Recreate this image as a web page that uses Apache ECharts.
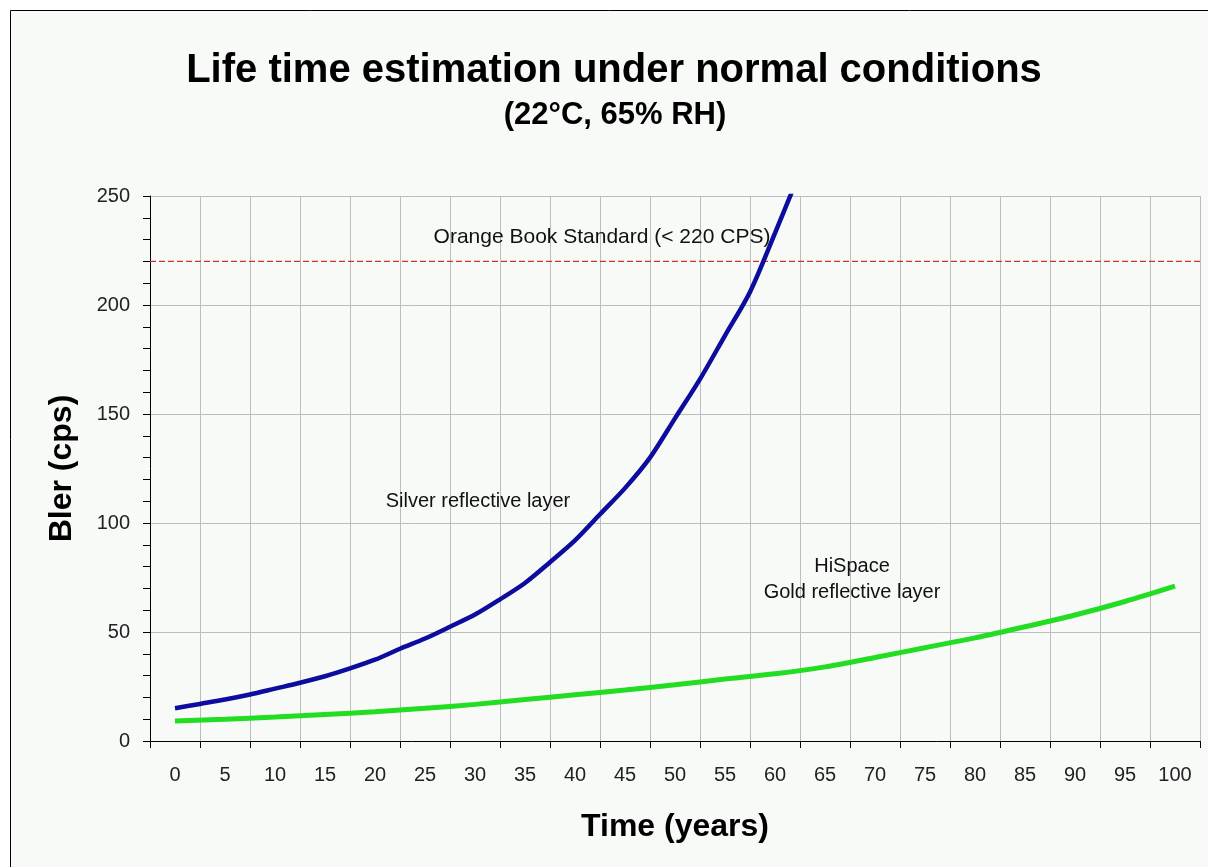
<!DOCTYPE html>
<html>
<head>
<meta charset="utf-8">
<script src="https://cdn.jsdelivr.net/npm/echarts@6/dist/echarts.min.js"></script>
<style>
html,body{margin:0;padding:0;background:#fff;}
#main{width:1208px;height:867px;}
</style>
</head>
<body>
<div id="main"></div>
<script>
// ---- data ----
const xCategories = ['0','5','10','15','20','25','30','35','40','45','50','55','60','65','70','75','80','85','90','95','100'];
const silverYears = [0,2.5,5,7.5,10,12.5,15,17.5,20,22.5,25,27.5,30,32.5,35,37.5,40,42.5,45,47.5,50,52.5,55,57.5,60,62.5];
const silverBler  = [15,17,19,21.3,24,26.7,29.7,33.3,37.3,42.3,47,52.4,58,65,72.5,82,92,104,116,130,148,166,186,206,233,261];
const goldYears = [0,5,10,15,20,25,30,35,40,45,50,55,60,65,70,75,80,85,90,95,100];
const goldBler  = [9.2,10,11,12.2,13.4,15,16.8,19,21.2,23.4,25.8,28.4,30.8,34,38.3,42.8,47.3,52.4,57.8,64,71];
const standardLimit = 220;
const xRange = [-2.5, 102.5];

const FONT = '"Liberation Sans", Arial, sans-serif';
const chart = echarts.init(document.getElementById('main'));

function pairs(xs, ys){ return xs.map((x,i)=>[x, ys[i]]); }

chart.setOption({
  backgroundColor: '#ffffff',
  animation: false,
  textStyle: { fontFamily: FONT },
  grid: { left: 150, right: 8, top: 196, bottom: 126, containLabel: false },
  graphic: [
    { type: 'rect', z: -10, silent: true,
      shape: { x: 10.5, y: 10.5, width: 1300, height: 1000 },
      style: { fill: '#f7faf7', stroke: '#000', lineWidth: 1 } },
    { type: 'text', z: 100, x: 614, y: 71,
      style: { text: 'Life time estimation under normal conditions', font: 'bold 40px ' + FONT, fill: '#000', align: 'center', verticalAlign: 'middle' } },
    { type: 'text', z: 100, x: 615, y: 115,
      style: { text: '(22°C, 65% RH)', font: 'bold 31px ' + FONT, fill: '#000', align: 'center', verticalAlign: 'middle' } },
    { type: 'text', z: 100, x: 602, y: 237,
      style: { text: 'Orange Book Standard (< 220 CPS)', font: '21px ' + FONT, fill: '#111', align: 'center', verticalAlign: 'middle' } },
    { type: 'text', z: 100, x: 478, y: 501,
      style: { text: 'Silver reflective layer', font: '20px ' + FONT, fill: '#111', align: 'center', verticalAlign: 'middle' } },
    { type: 'text', z: 100, x: 852, y: 566,
      style: { text: 'HiSpace', font: '20px ' + FONT, fill: '#111', align: 'center', verticalAlign: 'middle' } },
    { type: 'text', z: 100, x: 852, y: 592,
      style: { text: 'Gold reflective layer', font: '20px ' + FONT, fill: '#111', align: 'center', verticalAlign: 'middle' } }
  ],
  xAxis: [
    {
      type: 'category', data: xCategories, boundaryGap: true,
      name: 'Time (years)', nameLocation: 'middle', nameGap: 70,
      nameTextStyle: { fontSize: 32, fontWeight: 'bold', color: '#000', fontFamily: FONT },
      axisLine: { onZero: false, lineStyle: { color: '#000', width: 1 } },
      axisTick: { show: true, alignWithLabel: false, length: 7, lineStyle: { color: '#000' } },
      axisLabel: { fontSize: 20, color: '#222', margin: 24, interval: 0, fontFamily: FONT },
      splitLine: { show: true, interval: 0, lineStyle: { color: '#bdbdbd', width: 1 } }
    },
    { type: 'value', min: xRange[0], max: xRange[1], show: false, splitLine: { show: false } }
  ],
  yAxis: {
    type: 'value', min: 0, max: 250, interval: 50,
    name: 'Bler (cps)', nameLocation: 'middle', nameGap: 72,
    nameTextStyle: { fontSize: 32, fontWeight: 'bold', color: '#000', fontFamily: FONT },
    axisLine: { show: true, onZero: false, lineStyle: { color: '#000', width: 1 } },
    axisTick: { show: true, length: 7, lineStyle: { color: '#000' } },
    minorTick: { show: true, splitNumber: 5, length: 7, lineStyle: { color: '#000' } },
    axisLabel: { fontSize: 20, color: '#222', margin: 20, fontFamily: FONT },
    splitLine: { show: true, lineStyle: { color: '#bdbdbd', width: 1 } }
  },
  series: [
    {
      name: 'Orange Book Standard', type: 'line', xAxisIndex: 1,
      data: [[xRange[0], standardLimit], [xRange[1], standardLimit]],
      showSymbol: false, silent: true,
      lineStyle: { color: '#d03030', type: [6, 3], width: 1.2 },
      z: 2
    },
    {
      name: 'Silver reflective layer', type: 'line', xAxisIndex: 1,
      data: pairs(silverYears, silverBler), smooth: 0.3, showSymbol: false, clip: true,
      lineStyle: { color: '#0c0c9e', width: 4.5 },
      z: 3
    },
    {
      name: 'HiSpace Gold reflective layer', type: 'line', xAxisIndex: 1,
      data: pairs(goldYears, goldBler), smooth: 0.3, showSymbol: false, clip: true,
      lineStyle: { color: '#22dd22', width: 5 },
      z: 3
    }
  ]
});
</script>
</body>
</html>
